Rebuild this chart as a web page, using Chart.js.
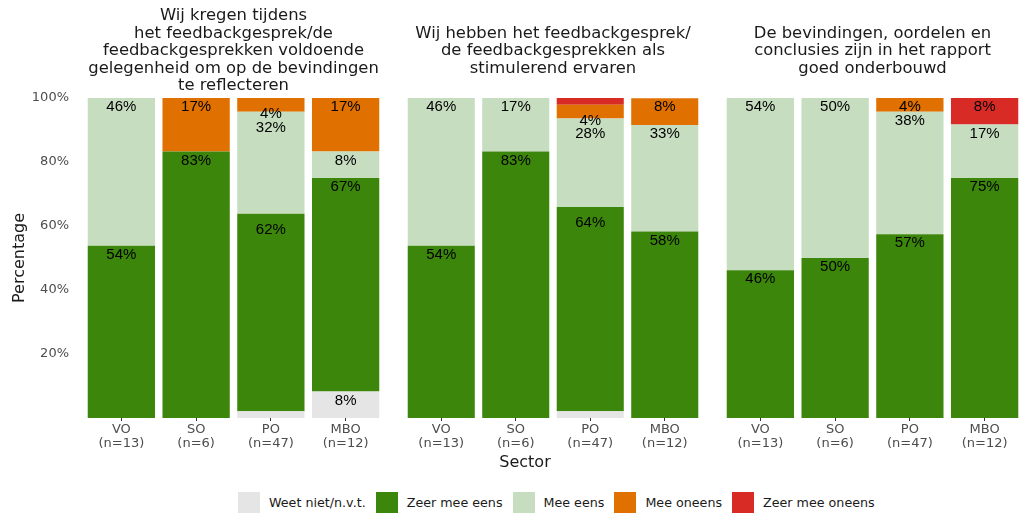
<!DOCTYPE html>
<html>
<head>
<meta charset="utf-8">
<script src="https://cdn.jsdelivr.net/npm/chart.js@4.4.1/dist/chart.umd.min.js"></script>
<style>
html, body { margin:0; padding:0; background:#fff; width:1022px; height:515px; overflow:hidden; }
canvas { position:absolute; top:0; }
#c1 { left:0; }
#c2 { left:404px; }
#c3 { left:723px; }
#xtitle { position:absolute; left:425px; width:200px; top:452px; text-align:center;
  font-family:"DejaVu Sans", Verdana, sans-serif; font-size:16px; line-height:20px; color:#1a1a1a; }
#legend { position:absolute; left:238px; top:492px; height:21px; display:flex; align-items:center;
  font-family:"DejaVu Sans", Verdana, sans-serif; font-size:12.7px; color:#1a1a1a; white-space:nowrap; }
#legend .box { width:22px; height:21px; margin-right:9px; }
#legend .txt { margin-right:10px; }
</style>
</head>
<body>
<canvas id="c1" width="383" height="470"></canvas>
<canvas id="c2" width="298" height="470"></canvas>
<canvas id="c3" width="299" height="470"></canvas>
<div id="xtitle">Sector</div>
<div id="legend"></div>
<script>
// ---- data ----
const sectors = ['VO', 'SO', 'PO', 'MBO'];
const sampleSizes = [13, 6, 47, 12];
const seriesNames = ['Weet niet/n.v.t.', 'Zeer mee eens', 'Mee eens', 'Mee oneens', 'Zeer mee oneens'];
const seriesColors = ['#E5E5E5', '#3B860B', '#C6DDBF', '#E07000', '#D92B26'];

const title1 = ['Wij kregen tijdens', 'het feedbackgesprek/de', 'feedbackgesprekken voldoende', 'gelegenheid om op de bevindingen', 'te reflecteren'];
const title2 = ['Wij hebben het feedbackgesprek/', 'de feedbackgesprekken als', 'stimulerend ervaren'];
const title3 = ['De bevindingen, oordelen en', 'conclusies zijn in het rapport', 'goed onderbouwd'];

// percentages per sector (VO, SO, PO, MBO)
const weetNiet1      = [0,    0,    2.1,  8.3];
const zeerMeeEens1   = [53.8, 83.3, 61.7, 66.7];
const meeEens1       = [46.2, 0,    31.9, 8.3];
const meeOneens1     = [0,    16.7, 4.3,  16.7];
const zeerMeeOneens1 = [0,    0,    0,    0];

const weetNiet2      = [0,    0,    2.1,  0];
const zeerMeeEens2   = [53.8, 83.3, 63.8, 58.3];
const meeEens2       = [46.2, 16.7, 27.7, 33.3];
const meeOneens2     = [0,    0,    4.3,  8.3];
const zeerMeeOneens2 = [0,    0,    2.1,  0];

const weetNiet3      = [0,    0,    0,    0];
const zeerMeeEens3   = [46.2, 50,   57.4, 75];
const meeEens3       = [53.8, 50,   38.3, 16.7];
const meeOneens3     = [0,    0,    4.3,  0];
const zeerMeeOneens3 = [0,    0,    0,    8.3];

const yTicks = [0, 20, 40, 60, 80, 100];
const LABEL_MIN = 3; // segments smaller than this get no label

// ---- helpers ----
const tickLabels = sectors.map((s, i) => [s, '(n=' + sampleSizes[i] + ')']);
const FONT = '"DejaVu Sans", Verdana, sans-serif';

const stackLabels = {
  id: 'stackLabels',
  afterDatasetsDraw(chart) {
    const ctx = chart.ctx, ys = chart.scales.y;
    ctx.save();
    ctx.font = '15px "Liberation Sans", Arial, sans-serif';
    ctx.fillStyle = '#000';
    ctx.textAlign = 'center';
    ctx.textBaseline = 'middle';
    chart.data.labels.forEach((_, i) => {
      let cum = 0;
      chart.data.datasets.forEach((ds, d) => {
        const v = ds.data[i];
        if (v >= LABEL_MIN) {
          cum += v;
          const bar = chart.getDatasetMeta(d).data[i];
          ctx.fillText(Math.round(v) + '%', bar.x, ys.getPixelForValue(cum) + 9);
        }
      });
    });
    ctx.restore();
  }
};

function makeChart(id, titleLines, series, showY) {
  const extra = (5 - titleLines.length) * 17.6 / 2;
  return new Chart(document.getElementById(id), {
    type: 'bar',
    data: {
      labels: tickLabels,
      datasets: series.map((arr, k) => ({
        label: seriesNames[k],
        data: arr,
        backgroundColor: seriesColors[k],
        borderWidth: 0,
        barPercentage: 0.9,
        categoryPercentage: 1.0
      }))
    },
    options: {
      responsive: false,
      animation: false,
      devicePixelRatio: 1,
      layout: { padding: 0 },
      plugins: {
        legend: { display: false },
        tooltip: { enabled: false },
        title: {
          display: true,
          text: titleLines,
          fullSize: false,
          color: '#1a1a1a',
          font: { family: FONT, size: 16.4, weight: 'normal', lineHeight: 17.6 / 16.4 },
          padding: { top: 7 + extra, bottom: 3 + extra }
        }
      },
      scales: {
        x: {
          stacked: true,
          grid: { display: true, drawOnChartArea: false, drawTicks: true, tickLength: 3, color: '#333', offset: false },
          border: { display: false },
          ticks: { autoSkip: false, maxRotation: 0, padding: 2, color: '#4d4d4d',
                   font: { family: FONT, size: 13, lineHeight: 1.05 } },
          afterFit(s) { s.height = 52; }
        },
        y: {
          stacked: true,
          display: showY,
          min: 0, max: 100,
          afterBuildTicks(s) { s.ticks = yTicks.map(v => ({ value: v })); },
          grid: { display: false, drawTicks: false },
          border: { display: false },
          ticks: { padding: 15, color: '#4d4d4d', font: { family: FONT, size: 13 },
                   callback: v => v === 0 ? '' : v + '%' },
          title: { display: true, text: 'Percentage', color: '#1a1a1a',
                   font: { family: FONT, size: 16, lineHeight: 1.2 }, padding: { top: 10, bottom: 0 } },
          afterFit(s) { if (showY) s.width = 84; }
        }
      }
    },
    plugins: [stackLabels]
  });
}

makeChart('c1', title1, [weetNiet1, zeerMeeEens1, meeEens1, meeOneens1, zeerMeeOneens1], true);
makeChart('c2', title2, [weetNiet2, zeerMeeEens2, meeEens2, meeOneens2, zeerMeeOneens2], false);
makeChart('c3', title3, [weetNiet3, zeerMeeEens3, meeEens3, meeOneens3, zeerMeeOneens3], false);

// legend
const leg = document.getElementById('legend');
seriesNames.forEach((name, k) => {
  const b = document.createElement('span'); b.className = 'box'; b.style.background = seriesColors[k];
  const t = document.createElement('span'); t.className = 'txt'; t.textContent = name;
  leg.appendChild(b); leg.appendChild(t);
});
</script>
</body>
</html>
